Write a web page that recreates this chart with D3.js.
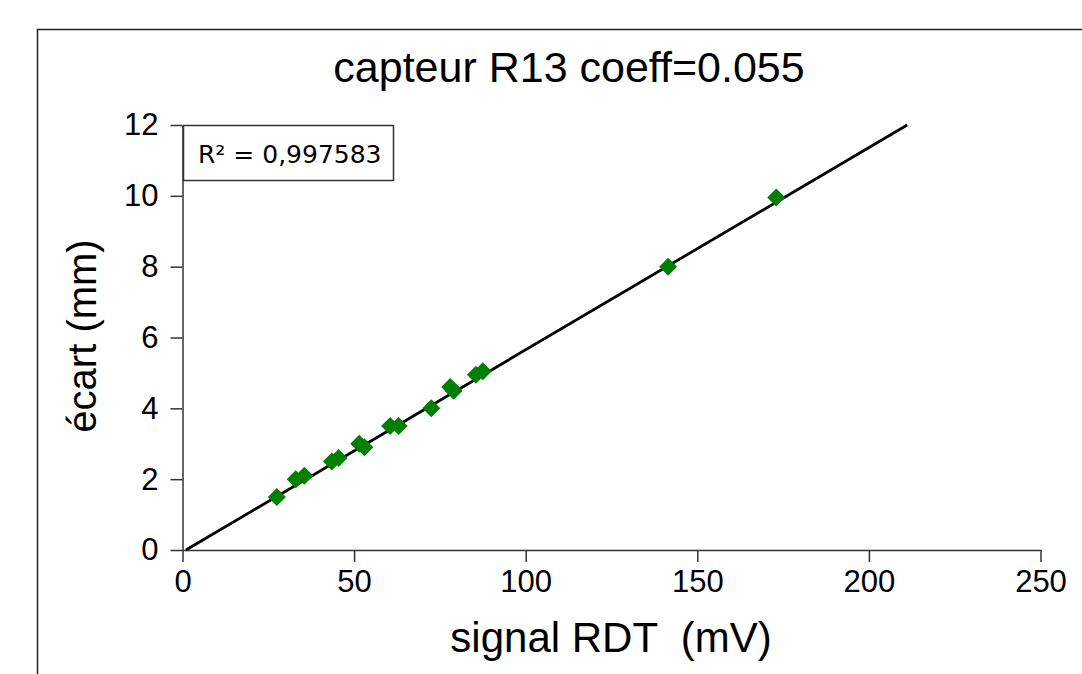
<!DOCTYPE html>
<html>
<head>
<meta charset="utf-8">
<script src="https://cdn.jsdelivr.net/npm/d3@7"></script>
<style>
  body { margin: 0; background: #fff; }
  svg { display: block; font-family: "Liberation Sans", Arial, sans-serif; }
</style>
</head>
<body>
<div id="chart"></div>
<script>
// Calibration points of the R13 sensor
const signalMv = [27.5, 33, 35.5, 43.5, 45.5, 51.5, 53, 60.5, 63, 72.5, 78, 79, 85.5, 87.5, 141.5, 173];
const ecartMm  = [1.5, 2.0, 2.1, 2.5, 2.6, 3.0, 2.9, 3.5, 3.5, 4.0, 4.6, 4.5, 4.95, 5.05, 8.0, 9.95];
const xTicks = [0, 50, 100, 150, 200, 250];
const yTicks = [0, 2, 4, 6, 8, 10, 12];
// linear trend line
const trendSlope = 0.0571, trendIntercept = -0.0571;
const r2Label = "R² = 0,997583";

const width = 1082, height = 674;
const points = signalMv.map((x, i) => ({x: x, y: ecartMm[i]}));

const svg = d3.select("#chart")
    .append("svg")
    .attr("width", width)
    .attr("height", height);

const x = d3.scaleLinear().domain([0, 250]).range([182.5, 1040.5]);
const y = d3.scaleLinear().domain([0, 12]).range([550, 125]);

// frame around the chart (only top and left visible)
svg.append("path")
    .attr("d", `M37.5,${height} V29.5 H${width}`)
    .attr("fill", "none")
    .attr("stroke", "#222")
    .attr("stroke-width", 1.5);

// Title
svg.append("text")
    .attr("x", 569)
    .attr("y", 82)
    .attr("text-anchor", "middle")
    .attr("font-size", "43px")
    .attr("fill", "#000")
    .text("capteur R13 coeff=0.055");

// Axes
const xAxis = d3.axisBottom(x).tickValues(xTicks).tickSize(12).tickSizeOuter(0).tickPadding(8);
const yAxis = d3.axisLeft(y).tickValues(yTicks).tickSize(12).tickSizeOuter(0).tickPadding(12);

const gx = svg.append("g")
    .attr("transform", `translate(0,${y(0)})`)
    .call(xAxis);
const gy = svg.append("g")
    .attr("transform", `translate(${x(0)},0)`)
    .call(yAxis);

[gx, gy].forEach(g => {
  g.selectAll("path, line").attr("stroke", "#333").attr("stroke-width", 1.5);
  g.selectAll("text")
    .attr("font-family", "'Liberation Sans', Arial, sans-serif")
    .attr("font-size", "31px")
    .attr("fill", "#000");
});

// Axis titles
svg.append("text")
    .attr("x", 611)
    .attr("y", 652)
    .attr("text-anchor", "middle")
    .attr("font-size", "42px")
    .attr("xml:space", "preserve")
    .text("signal RDT  (mV)");

svg.append("text")
    .attr("transform", `translate(96,${336}) rotate(-90)`)
    .attr("text-anchor", "middle")
    .attr("font-size", "40px")
    .text("écart (mm)");

// Trend line
const xStart = -trendIntercept / trendSlope;
const xEnd = (12 - trendIntercept) / trendSlope;
svg.append("line")
    .attr("x1", x(xStart))
    .attr("y1", y(trendSlope * xStart + trendIntercept))
    .attr("x2", x(xEnd))
    .attr("y2", y(trendSlope * xEnd + trendIntercept))
    .attr("stroke", "#000")
    .attr("stroke-width", 2.8);

// Markers: green diamonds
const s = 9;
svg.append("g")
    .selectAll("path")
    .data(points)
    .enter()
    .append("path")
      .attr("transform", d => `translate(${x(d.x)},${y(d.y)})`)
      .attr("d", `M0,${-s} L${s},0 L0,${s} L${-s},0 Z`)
      .attr("fill", "#008000");

// R² box
svg.append("rect")
    .attr("x", x(0) + 1)
    .attr("y", 125.5)
    .attr("width", 210)
    .attr("height", 55)
    .attr("fill", "#fff")
    .attr("stroke", "#333")
    .attr("stroke-width", 1.5);

svg.append("text")
    .attr("x", 198)
    .attr("y", 163)
    .attr("font-family", "'DejaVu Sans', Verdana, sans-serif")
    .attr("font-size", "25px")
    .attr("fill", "#000")
    .text(r2Label);
</script>
</body>
</html>
